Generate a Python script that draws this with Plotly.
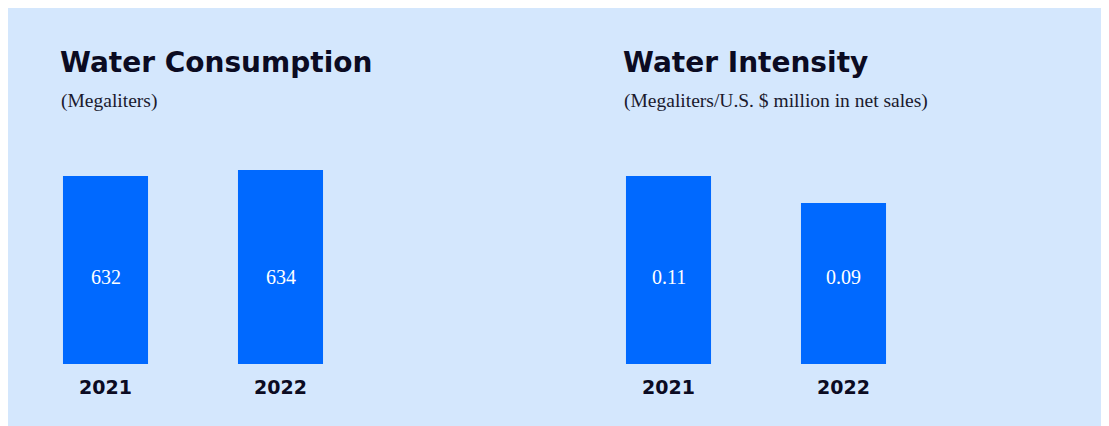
import plotly.graph_objects as go

# ---- data ----
years = ["2021", "2022"]
consumption = [632, 634]
intensity = [0.11, 0.09]
consumption_labels = ["632", "634"]
intensity_labels = ["0.11", "0.09"]
titles = ["Water Consumption", "Water Intensity"]
subtitles = ["(Megaliters)", "(Megaliters/U.S. $ million in net sales)"]

# ---- styling / layout constants ----
OFF = 8                      # page body margin
W, H = 1109 - OFF, 426 - OFF
BG = "#D4E7FD"
BAR = "#0069FF"
DARK = "#0B0B22"
SANS = "DejaVu Sans"
SERIF = "Liberation Serif"

left_range = [569.33, 640.67]
right_range = [-0.02926, 0.12926]

def px_x(p):
    return (p - OFF) / W

def px_y(p):
    return 1 - (p - OFF) / H

y_dom = [px_y(364), px_y(150)]
x_dom_left = [px_x(18), px_x(368)]
x_dom_right = [px_x(581), px_x(931)]

fig = go.Figure()

fig.add_trace(go.Bar(
    x=years,
    y=[v - left_range[0] for v in consumption],
    base=left_range[0],
    width=0.486,
    marker=dict(color=BAR, line=dict(width=0)),
    hoverinfo="skip",
    xaxis="x", yaxis="y",
))
fig.add_trace(go.Bar(
    x=years,
    y=[v - right_range[0] for v in intensity],
    base=right_range[0],
    width=0.486,
    marker=dict(color=BAR, line=dict(width=0)),
    hoverinfo="skip",
    xaxis="x2", yaxis="y2",
))

xaxis_common = dict(
    type="category", range=[-0.5, 1.5], showgrid=False, zeroline=False,
    showline=False, ticks="", ticklabelstandoff=10,
    tickfont=dict(family=SANS, size=19, color=DARK, weight="bold"),
    fixedrange=True,
)
yaxis_common = dict(showgrid=False, zeroline=False, showline=False,
                    showticklabels=False, ticks="", fixedrange=True)

annotations = []
label_y = (364 - 277) / (364 - 150)
for i, lab in enumerate(consumption_labels):
    annotations.append(dict(x=i, y=label_y, xref="x", yref="y domain",
                            text=lab, showarrow=False,
                            font=dict(family=SERIF, size=20, color="white")))
for i, lab in enumerate(intensity_labels):
    annotations.append(dict(x=i, y=label_y, xref="x2", yref="y2 domain",
                            text=lab, showarrow=False,
                            font=dict(family=SERIF, size=20, color="white")))

title_px = [58, 621]
for t, s, tp in zip(titles, subtitles, title_px):
    annotations.append(dict(x=px_x(tp), y=px_y(62), xref="paper", yref="paper",
                            xanchor="left", yanchor="middle", text=t,
                            showarrow=False,
                            font=dict(family=SANS, size=28, color=DARK, weight="bold")))
    annotations.append(dict(x=px_x(tp + 1), y=px_y(101), xref="paper", yref="paper",
                            xanchor="left", yanchor="middle", text=s,
                            showarrow=False,
                            font=dict(family=SERIF, size=19.5, color="#1A1A2E")))

fig.update_layout(
    width=W, height=H,
    margin=dict(l=0, r=0, t=0, b=0),
    paper_bgcolor=BG,
    plot_bgcolor="rgba(0,0,0,0)",
    showlegend=False,
    xaxis=dict(domain=x_dom_left, anchor="y", **xaxis_common),
    yaxis=dict(domain=y_dom, anchor="x", range=left_range, **yaxis_common),
    xaxis2=dict(domain=x_dom_right, anchor="y2", **xaxis_common),
    yaxis2=dict(domain=y_dom, anchor="x2", range=right_range, **yaxis_common),
    annotations=annotations,
)

fig.write_html("out.html", config={"displayModeBar": False})
